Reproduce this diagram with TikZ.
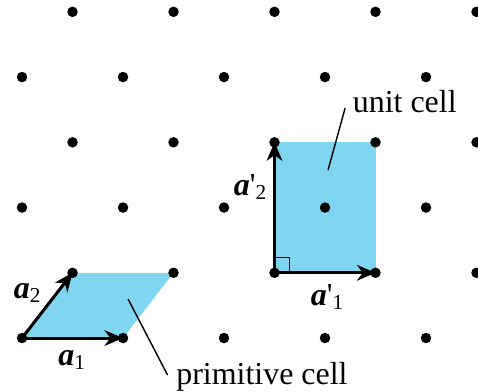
\documentclass[tikz,border=0pt]{standalone}
\usepackage{fontspec}
\setmainfont{Liberation Serif}
\usepackage{tikz}
\usetikzlibrary{arrows.meta}
\definecolor{cellblue}{RGB}{128,214,240}
\newcommand{\vecA}{\textbf{\textit{a}}}

\begin{document}
\begin{tikzpicture}[vec/.style={-{Stealth[length=5.2pt,width=4.4pt,inset=1.6pt]},line width=0.85pt},
  lbl/.style={font=\fontsize{9}{11}\selectfont,inner sep=0pt},
  lead/.style={line width=0.4pt}]
\useasboundingbox (-0.218,-0.525) rectangle (4.515,3.347);
\foreach \j in {0,...,5}
  \foreach \i in {0,...,4}
    \coordinate (p-\i-\j) at ({\i+0.5*mod(\j,2)},{0.646*\j});
% cells
\fill[cellblue] (p-0-0) -- (p-1-0) -- (p-1-1) -- (p-0-1) -- cycle;
\fill[cellblue] (p-2-1) -- (p-3-1) -- (p-3-3) -- (p-2-3) -- cycle;
\draw[line width=0.35pt] ([xshift=0.15cm]p-2-1) |- ([yshift=0.15cm]p-2-1);
% lattice points
\foreach \j in {0,...,5}
  \foreach \i in {0,...,4}
    \fill (p-\i-\j) circle (0.052);
% vectors
\draw[vec] (p-0-0) -- (p-1-0);
\draw[vec] (p-0-0) -- (p-0-1);
\draw[vec] (p-2-1) -- (p-3-1);
\draw[vec] (p-2-1) -- (p-2-3);
\node[lbl] (a1) at (0.5,-0.218) {\vecA\textsubscript{1}};
\node[lbl] (a2) at (0.06,0.446) {\vecA\textsubscript{2}};
\node[lbl] (b1) at (3.03,0.406) {\vecA\textquotesingle\textsubscript{1}};
\node[lbl] (b2) at (2.267,1.495) {\vecA\textquotesingle\textsubscript{2}};
% labels
\node[lbl] (uc) at (3.79,2.337) {unit cell};
\node[lbl] (pc) at (2.376,-0.386) {primitive cell};
\coordinate (uc-in) at (3.03,1.663);
\coordinate (pc-in) at (1.05,0.386);
\draw[lead] (uc-in) -- ([shift={(-0.07,-0.06)}]uc.west);
\draw[lead] (pc-in) -- ([shift={(-0.08,0.02)}]pc.west);
\end{tikzpicture}
\end{document}
